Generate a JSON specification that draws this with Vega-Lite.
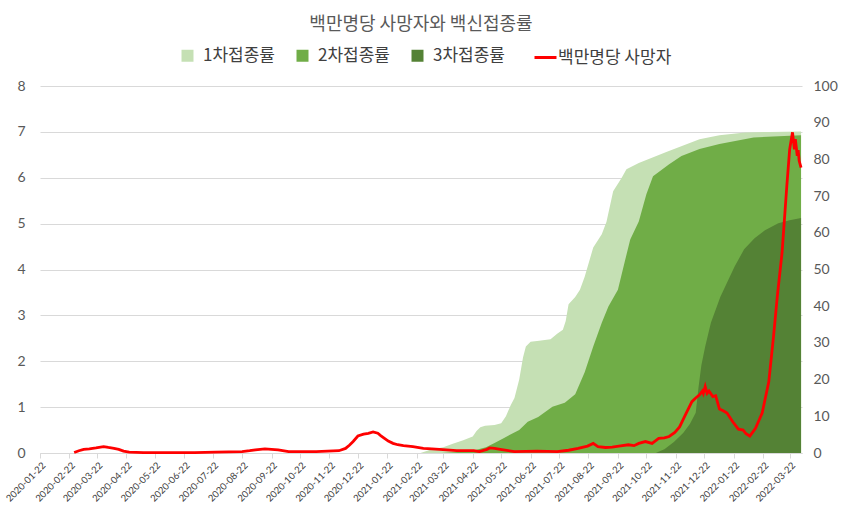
{
  "$schema": "https://vega.github.io/schema/vega-lite/v6.json",
  "width": 850,
  "height": 510,
  "autosize": {"type": "fit", "contains": "padding"},
  "padding": {"left": 3, "right": 12, "top": 16, "bottom": 7},
  "background": "white",
  "title": {"text": "백만명당 사망자와 백신접종률", "font": "Noto Sans CJK KR", "fontSize": 18, "fontWeight": "normal", "color": "#595959", "anchor": "middle", "offset": 45},
  "config": {
    "view": {"stroke": null},
    "font": "Lato"
  },
  "data": {"values": [
    {"series": "1차접종률", "date": "2021-02-26", "value": 0},
    {"series": "1차접종률", "date": "2021-03-10", "value": 1},
    {"series": "1차접종률", "date": "2021-03-22", "value": 1.6},
    {"series": "1차접종률", "date": "2021-04-01", "value": 2.5},
    {"series": "1차접종률", "date": "2021-04-12", "value": 3.5},
    {"series": "1차접종률", "date": "2021-04-22", "value": 4.5},
    {"series": "1차접종률", "date": "2021-04-26", "value": 6},
    {"series": "1차접종률", "date": "2021-04-30", "value": 7},
    {"series": "1차접종률", "date": "2021-05-05", "value": 7.4},
    {"series": "1차접종률", "date": "2021-05-15", "value": 7.6},
    {"series": "1차접종률", "date": "2021-05-22", "value": 8.1},
    {"series": "1차접종률", "date": "2021-05-27", "value": 10},
    {"series": "1차접종률", "date": "2021-06-01", "value": 13},
    {"series": "1차접종률", "date": "2021-06-05", "value": 15},
    {"series": "1차접종률", "date": "2021-06-10", "value": 20},
    {"series": "1차접종률", "date": "2021-06-14", "value": 26},
    {"series": "1차접종률", "date": "2021-06-17", "value": 29},
    {"series": "1차접종률", "date": "2021-06-22", "value": 30.3},
    {"series": "1차접종률", "date": "2021-07-01", "value": 30.6},
    {"series": "1차접종률", "date": "2021-07-13", "value": 31},
    {"series": "1차접종률", "date": "2021-07-20", "value": 32.5},
    {"series": "1차접종률", "date": "2021-07-26", "value": 33.6},
    {"series": "1차접종률", "date": "2021-07-29", "value": 36},
    {"series": "1차접종률", "date": "2021-08-01", "value": 40.5},
    {"series": "1차접종률", "date": "2021-08-08", "value": 42.5},
    {"series": "1차접종률", "date": "2021-08-13", "value": 44.5},
    {"series": "1차접종률", "date": "2021-08-18", "value": 48},
    {"series": "1차접종률", "date": "2021-08-27", "value": 56},
    {"series": "1차접종률", "date": "2021-09-05", "value": 59.6},
    {"series": "1차접종률", "date": "2021-09-10", "value": 63},
    {"series": "1차접종률", "date": "2021-09-17", "value": 71.3},
    {"series": "1차접종률", "date": "2021-09-26", "value": 75},
    {"series": "1차접종률", "date": "2021-10-01", "value": 77.3},
    {"series": "1차접종률", "date": "2021-10-14", "value": 79},
    {"series": "1차접종률", "date": "2021-11-12", "value": 82},
    {"series": "1차접종률", "date": "2021-12-17", "value": 85.5},
    {"series": "1차접종률", "date": "2022-01-07", "value": 86.6},
    {"series": "1차접종률", "date": "2022-02-03", "value": 87.3},
    {"series": "1차접종률", "date": "2022-03-01", "value": 87.5},
    {"series": "1차접종률", "date": "2022-04-03", "value": 87.6},
    {"series": "2차접종률", "date": "2021-03-20", "value": 0},
    {"series": "2차접종률", "date": "2021-04-20", "value": 0.5},
    {"series": "2차접종률", "date": "2021-05-06", "value": 1.6},
    {"series": "2차접종률", "date": "2021-05-15", "value": 2.7},
    {"series": "2차접종률", "date": "2021-05-25", "value": 4.1},
    {"series": "2차접종률", "date": "2021-06-10", "value": 6.3},
    {"series": "2차접종률", "date": "2021-06-19", "value": 8.5},
    {"series": "2차접종률", "date": "2021-06-30", "value": 9.8},
    {"series": "2차접종률", "date": "2021-07-15", "value": 12.6},
    {"series": "2차접종률", "date": "2021-07-28", "value": 13.7},
    {"series": "2차접종률", "date": "2021-08-08", "value": 16},
    {"series": "2차접종률", "date": "2021-08-13", "value": 19},
    {"series": "2차접종률", "date": "2021-08-18", "value": 22},
    {"series": "2차접종률", "date": "2021-08-27", "value": 29},
    {"series": "2차접종률", "date": "2021-09-05", "value": 35.5},
    {"series": "2차접종률", "date": "2021-09-12", "value": 39.9},
    {"series": "2차접종률", "date": "2021-09-22", "value": 44.5},
    {"series": "2차접종률", "date": "2021-09-29", "value": 51.9},
    {"series": "2차접종률", "date": "2021-10-05", "value": 58.2},
    {"series": "2차접종률", "date": "2021-10-14", "value": 63.1},
    {"series": "2차접종률", "date": "2021-10-22", "value": 70.5},
    {"series": "2차접종률", "date": "2021-10-29", "value": 75.4},
    {"series": "2차접종률", "date": "2021-11-15", "value": 78.7},
    {"series": "2차접종률", "date": "2021-11-28", "value": 80.9},
    {"series": "2차접종률", "date": "2021-12-17", "value": 82.8},
    {"series": "2차접종률", "date": "2022-01-07", "value": 84.2},
    {"series": "2차접종률", "date": "2022-02-12", "value": 86},
    {"series": "2차접종률", "date": "2022-04-03", "value": 86.6},
    {"series": "3차접종률", "date": "2021-11-01", "value": 0},
    {"series": "3차접종률", "date": "2021-11-05", "value": 0.5},
    {"series": "3차접종률", "date": "2021-11-10", "value": 1},
    {"series": "3차접종률", "date": "2021-11-20", "value": 3},
    {"series": "3차접종률", "date": "2021-11-30", "value": 5.5},
    {"series": "3차접종률", "date": "2021-12-07", "value": 8},
    {"series": "3차접종률", "date": "2021-12-13", "value": 11},
    {"series": "3차접종률", "date": "2021-12-16", "value": 18},
    {"series": "3차접종률", "date": "2021-12-19", "value": 24},
    {"series": "3차접종률", "date": "2021-12-23", "value": 29},
    {"series": "3차접종률", "date": "2021-12-29", "value": 35.5},
    {"series": "3차접종률", "date": "2022-01-08", "value": 42.6},
    {"series": "3차접종률", "date": "2022-01-23", "value": 50.8},
    {"series": "3차접종률", "date": "2022-02-02", "value": 55.5},
    {"series": "3차접종률", "date": "2022-02-13", "value": 58.5},
    {"series": "3차접종률", "date": "2022-02-24", "value": 60.7},
    {"series": "3차접종률", "date": "2022-03-10", "value": 62.6},
    {"series": "3차접종률", "date": "2022-03-22", "value": 63.4},
    {"series": "3차접종률", "date": "2022-04-03", "value": 64},
    {"series": "백만명당 사망자", "date": "2020-02-27", "value": 0.01},
    {"series": "백만명당 사망자", "date": "2020-03-03", "value": 0.05},
    {"series": "백만명당 사망자", "date": "2020-03-08", "value": 0.08},
    {"series": "백만명당 사망자", "date": "2020-03-14", "value": 0.09},
    {"series": "백만명당 사망자", "date": "2020-03-21", "value": 0.11},
    {"series": "백만명당 사망자", "date": "2020-03-29", "value": 0.14},
    {"series": "백만명당 사망자", "date": "2020-04-03", "value": 0.12},
    {"series": "백만명당 사망자", "date": "2020-04-09", "value": 0.1},
    {"series": "백만명당 사망자", "date": "2020-04-14", "value": 0.08},
    {"series": "백만명당 사망자", "date": "2020-04-19", "value": 0.04},
    {"series": "백만명당 사망자", "date": "2020-04-25", "value": 0.02},
    {"series": "백만명당 사망자", "date": "2020-05-10", "value": 0.01},
    {"series": "백만명당 사망자", "date": "2020-05-21", "value": 0.01},
    {"series": "백만명당 사망자", "date": "2020-06-10", "value": 0.01},
    {"series": "백만명당 사망자", "date": "2020-07-03", "value": 0.01},
    {"series": "백만명당 사망자", "date": "2020-07-25", "value": 0.02},
    {"series": "백만명당 사망자", "date": "2020-08-22", "value": 0.03},
    {"series": "백만명당 사망자", "date": "2020-08-30", "value": 0.05},
    {"series": "백만명당 사망자", "date": "2020-09-05", "value": 0.07},
    {"series": "백만명당 사망자", "date": "2020-09-15", "value": 0.09},
    {"series": "백만명당 사망자", "date": "2020-09-22", "value": 0.08},
    {"series": "백만명당 사망자", "date": "2020-09-29", "value": 0.07},
    {"series": "백만명당 사망자", "date": "2020-10-10", "value": 0.03},
    {"series": "백만명당 사망자", "date": "2020-10-25", "value": 0.03},
    {"series": "백만명당 사망자", "date": "2020-11-08", "value": 0.03},
    {"series": "백만명당 사망자", "date": "2020-11-20", "value": 0.04},
    {"series": "백만명당 사망자", "date": "2020-12-02", "value": 0.05},
    {"series": "백만명당 사망자", "date": "2020-12-09", "value": 0.1},
    {"series": "백만명당 사망자", "date": "2020-12-13", "value": 0.17},
    {"series": "백만명당 사망자", "date": "2020-12-17", "value": 0.25},
    {"series": "백만명당 사망자", "date": "2020-12-22", "value": 0.37},
    {"series": "백만명당 사망자", "date": "2020-12-28", "value": 0.41},
    {"series": "백만명당 사망자", "date": "2021-01-02", "value": 0.43},
    {"series": "백만명당 사망자", "date": "2021-01-07", "value": 0.46},
    {"series": "백만명당 사망자", "date": "2021-01-12", "value": 0.43},
    {"series": "백만명당 사망자", "date": "2021-01-15", "value": 0.38},
    {"series": "백만명당 사망자", "date": "2021-01-19", "value": 0.32},
    {"series": "백만명당 사망자", "date": "2021-01-23", "value": 0.26},
    {"series": "백만명당 사망자", "date": "2021-01-28", "value": 0.21},
    {"series": "백만명당 사망자", "date": "2021-02-02", "value": 0.18},
    {"series": "백만명당 사망자", "date": "2021-02-08", "value": 0.16},
    {"series": "백만명당 사망자", "date": "2021-02-18", "value": 0.14},
    {"series": "백만명당 사망자", "date": "2021-03-01", "value": 0.1},
    {"series": "백만명당 사망자", "date": "2021-03-10", "value": 0.09},
    {"series": "백만명당 사망자", "date": "2021-03-18", "value": 0.08},
    {"series": "백만명당 사망자", "date": "2021-04-05", "value": 0.05},
    {"series": "백만명당 사망자", "date": "2021-04-23", "value": 0.05},
    {"series": "백만명당 사망자", "date": "2021-04-29", "value": 0.03},
    {"series": "백만명당 사망자", "date": "2021-05-07", "value": 0.08},
    {"series": "백만명당 사망자", "date": "2021-05-10", "value": 0.11},
    {"series": "백만명당 사망자", "date": "2021-05-15", "value": 0.1},
    {"series": "백만명당 사망자", "date": "2021-05-21", "value": 0.08},
    {"series": "백만명당 사망자", "date": "2021-06-05", "value": 0.03},
    {"series": "백만명당 사망자", "date": "2021-06-29", "value": 0.04},
    {"series": "백만명당 사망자", "date": "2021-07-20", "value": 0.03},
    {"series": "백만명당 사망자", "date": "2021-08-01", "value": 0.06},
    {"series": "백만명당 사망자", "date": "2021-08-11", "value": 0.1},
    {"series": "백만명당 사망자", "date": "2021-08-21", "value": 0.15},
    {"series": "백만명당 사망자", "date": "2021-08-27", "value": 0.21},
    {"series": "백만명당 사망자", "date": "2021-09-01", "value": 0.14},
    {"series": "백만명당 사망자", "date": "2021-09-09", "value": 0.12},
    {"series": "백만명당 사망자", "date": "2021-09-16", "value": 0.13},
    {"series": "백만명당 사망자", "date": "2021-09-23", "value": 0.15},
    {"series": "백만명당 사망자", "date": "2021-10-03", "value": 0.18},
    {"series": "백만명당 사망자", "date": "2021-10-09", "value": 0.16},
    {"series": "백만명당 사망자", "date": "2021-10-14", "value": 0.21},
    {"series": "백만명당 사망자", "date": "2021-10-21", "value": 0.25},
    {"series": "백만명당 사망자", "date": "2021-10-28", "value": 0.21},
    {"series": "백만명당 사망자", "date": "2021-11-04", "value": 0.32},
    {"series": "백만명당 사망자", "date": "2021-11-10", "value": 0.33},
    {"series": "백만명당 사망자", "date": "2021-11-15", "value": 0.36},
    {"series": "백만명당 사망자", "date": "2021-11-21", "value": 0.45},
    {"series": "백만명당 사망자", "date": "2021-11-26", "value": 0.57},
    {"series": "백만명당 사망자", "date": "2021-12-03", "value": 0.87},
    {"series": "백만명당 사망자", "date": "2021-12-09", "value": 1.12},
    {"series": "백만명당 사망자", "date": "2021-12-13", "value": 1.2},
    {"series": "백만명당 사망자", "date": "2021-12-17", "value": 1.27},
    {"series": "백만명당 사망자", "date": "2021-12-20", "value": 1.35},
    {"series": "백만명당 사망자", "date": "2021-12-21", "value": 1.3},
    {"series": "백만명당 사망자", "date": "2021-12-23", "value": 1.45},
    {"series": "백만명당 사망자", "date": "2021-12-25", "value": 1.3},
    {"series": "백만명당 사망자", "date": "2021-12-27", "value": 1.35},
    {"series": "백만명당 사망자", "date": "2021-12-31", "value": 1.23},
    {"series": "백만명당 사망자", "date": "2022-01-03", "value": 1.25},
    {"series": "백만명당 사망자", "date": "2022-01-07", "value": 0.96},
    {"series": "백만명당 사망자", "date": "2022-01-11", "value": 0.92},
    {"series": "백만명당 사망자", "date": "2022-01-15", "value": 0.87},
    {"series": "백만명당 사망자", "date": "2022-01-21", "value": 0.68},
    {"series": "백만명당 사망자", "date": "2022-01-27", "value": 0.52},
    {"series": "백만명당 사망자", "date": "2022-02-01", "value": 0.5},
    {"series": "백만명당 사망자", "date": "2022-02-04", "value": 0.42},
    {"series": "백만명당 사망자", "date": "2022-02-08", "value": 0.37},
    {"series": "백만명당 사망자", "date": "2022-02-14", "value": 0.54},
    {"series": "백만명당 사망자", "date": "2022-02-21", "value": 0.87},
    {"series": "백만명당 사망자", "date": "2022-02-28", "value": 1.55},
    {"series": "백만명당 사망자", "date": "2022-03-05", "value": 2.54},
    {"series": "백만명당 사망자", "date": "2022-03-09", "value": 3.42},
    {"series": "백만명당 사망자", "date": "2022-03-14", "value": 4.37},
    {"series": "백만명당 사망자", "date": "2022-03-19", "value": 5.82},
    {"series": "백만명당 사망자", "date": "2022-03-22", "value": 6.62},
    {"series": "백만명당 사망자", "date": "2022-03-25", "value": 6.99},
    {"series": "백만명당 사망자", "date": "2022-03-27", "value": 6.62},
    {"series": "백만명당 사망자", "date": "2022-03-28", "value": 6.84},
    {"series": "백만명당 사망자", "date": "2022-03-30", "value": 6.48},
    {"series": "백만명당 사망자", "date": "2022-03-31", "value": 6.6},
    {"series": "백만명당 사망자", "date": "2022-04-01", "value": 6.37},
    {"series": "백만명당 사망자", "date": "2022-04-03", "value": 6.22}
  ]},
  "encoding": {
    "x": {
      "field": "date", "type": "temporal",
      "scale": {"type": "utc", "domain": [{"year": 2020, "month": 1, "date": 22, "utc": true}, {"year": 2022, "month": 4, "date": 4, "utc": true}]},
      "axis": {
        "title": null,
        "values": [
          {"year": 2020, "month": 1, "date": 22, "utc": true},
          {"year": 2020, "month": 2, "date": 22, "utc": true},
          {"year": 2020, "month": 3, "date": 22, "utc": true},
          {"year": 2020, "month": 4, "date": 22, "utc": true},
          {"year": 2020, "month": 5, "date": 22, "utc": true},
          {"year": 2020, "month": 6, "date": 22, "utc": true},
          {"year": 2020, "month": 7, "date": 22, "utc": true},
          {"year": 2020, "month": 8, "date": 22, "utc": true},
          {"year": 2020, "month": 9, "date": 22, "utc": true},
          {"year": 2020, "month": 10, "date": 22, "utc": true},
          {"year": 2020, "month": 11, "date": 22, "utc": true},
          {"year": 2020, "month": 12, "date": 22, "utc": true},
          {"year": 2021, "month": 1, "date": 22, "utc": true},
          {"year": 2021, "month": 2, "date": 22, "utc": true},
          {"year": 2021, "month": 3, "date": 22, "utc": true},
          {"year": 2021, "month": 4, "date": 22, "utc": true},
          {"year": 2021, "month": 5, "date": 22, "utc": true},
          {"year": 2021, "month": 6, "date": 22, "utc": true},
          {"year": 2021, "month": 7, "date": 22, "utc": true},
          {"year": 2021, "month": 8, "date": 22, "utc": true},
          {"year": 2021, "month": 9, "date": 22, "utc": true},
          {"year": 2021, "month": 10, "date": 22, "utc": true},
          {"year": 2021, "month": 11, "date": 22, "utc": true},
          {"year": 2021, "month": 12, "date": 22, "utc": true},
          {"year": 2022, "month": 1, "date": 22, "utc": true},
          {"year": 2022, "month": 2, "date": 22, "utc": true},
          {"year": 2022, "month": 3, "date": 22, "utc": true}
        ],
        "labelExpr": "utcFormat(datum.value, '%Y-%m-%d')",
        "labelAngle": -45, "labelFontSize": 9.5, "labelColor": "#404040",
        "labelOverlap": false, "labelFlush": false, "labelBound": false, "labelPadding": 2,
        "domainColor": "#D9D9D9", "tickColor": "#D9D9D9", "tickSize": 5, "grid": false
      }
    }
  },
  "layer": [
    {
      "transform": [{"filter": "datum.series !== '백만명당 사망자'"}],
      "mark": {"type": "area", "opacity": 1, "interpolate": "linear"},
      "encoding": {
        "y": {
          "field": "value", "type": "quantitative", "stack": null,
          "scale": {"domain": [0, 100], "nice": false, "zero": true},
          "axis": {"orient": "right", "title": null, "values": [0, 10, 20, 30, 40, 50, 60, 70, 80, 90, 100], "grid": false, "ticks": false, "domain": false, "labelFontSize": 14, "labelColor": "#595959", "labelPadding": 11}
        },
        "fill": {
          "field": "series", "type": "nominal",
          "scale": {"domain": ["1차접종률", "2차접종률", "3차접종률"], "range": ["#C5E0B4", "#70AD47", "#548235"]},
          "legend": {
            "title": null, "orient": "none", "legendX": 139, "legendY": -39, "direction": "horizontal",
            "labelFont": "Noto Sans CJK KR", "labelFontSize": 17, "labelColor": "#404040",
            "symbolSize": 144, "symbolType": "square", "symbolStrokeWidth": 0, "symbolOpacity": 1,
            "columnPadding": 19, "labelOffset": 7
          }
        }
      }
    },
    {
      "transform": [{"filter": "datum.series === '백만명당 사망자'"}],
      "mark": {"type": "line", "strokeWidth": 2.8, "interpolate": "linear"},
      "encoding": {
        "y": {
          "field": "value", "type": "quantitative",
          "scale": {"domain": [0, 8], "nice": false},
          "axis": {"orient": "left", "title": null, "values": [0, 1, 2, 3, 4, 5, 6, 7, 8], "grid": true, "gridColor": "#D9D9D9", "ticks": false, "domain": false, "labelFontSize": 14, "labelColor": "#595959", "labelPadding": 15}
        },
        "stroke": {
          "field": "series", "type": "nominal",
          "scale": {"domain": ["백만명당 사망자"], "range": ["#FF0000"]},
          "legend": {
            "title": null, "orient": "none", "legendX": 493, "legendY": -41, "direction": "horizontal",
            "labelFont": "Noto Sans CJK KR", "labelFontSize": 17, "labelColor": "#404040",
            "symbolSize": 484, "symbolType": "stroke", "symbolStrokeWidth": 3, "symbolOpacity": 1,
            "labelOffset": 0
          }
        }
      }
    }
  ],
  "resolve": {"scale": {"y": "independent"}}
}
